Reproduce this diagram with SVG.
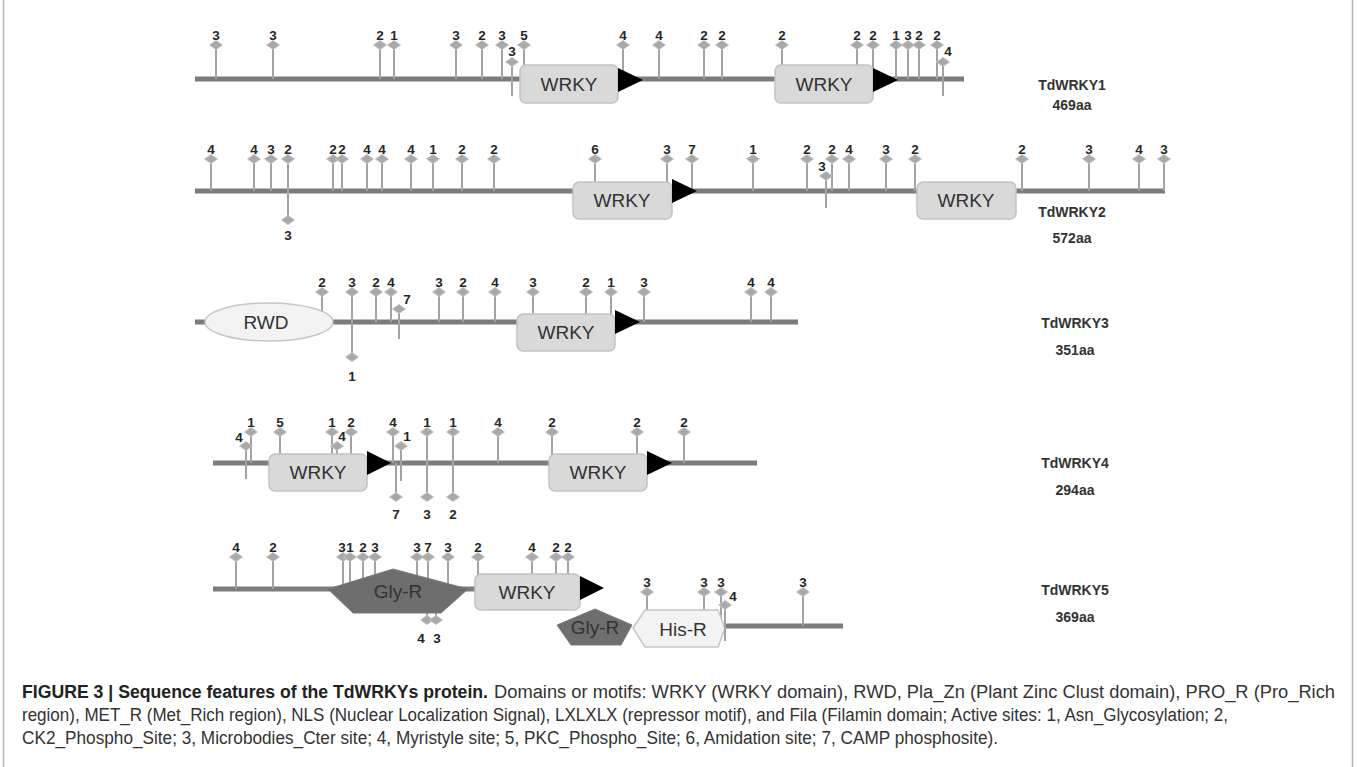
<svg xmlns="http://www.w3.org/2000/svg" xmlns:xlink="http://www.w3.org/1999/xlink" width="1358" height="767" viewBox="0 0 1358 767">
<style>
.bb{stroke:#7c7c7c;stroke-width:5;fill:none}
.s{stroke:#a3a3a3;stroke-width:2}
.n{font-family:"Liberation Sans",Arial,sans-serif;font-weight:bold;font-size:13.5px;fill:#262626;text-anchor:middle}
.dom{fill:#d9d9d9;stroke:#c2c2c2;stroke-width:1.5}
.dt{font-family:"Liberation Sans",Arial,sans-serif;font-size:19px;fill:#333;text-anchor:middle}
.ar{fill:#000}
.lab{font-family:"Liberation Sans",Arial,sans-serif;font-weight:bold;font-size:14px;fill:#333;text-anchor:middle}
.dark{fill:#6e6e6e;stroke:#7a7a7a;stroke-width:1}
.light{fill:#f3f3f3;stroke:#c6c6c6;stroke-width:1.5}
.cap{font-family:"Liberation Sans",Arial,sans-serif;font-size:17.6px;fill:#333}
.capb{font-family:"Liberation Sans",Arial,sans-serif;font-size:17.6px;font-weight:bold;fill:#222}
.frame{stroke:#b5b5b5;stroke-width:1.5}
</style>
<defs>
<path id="dm" d="M0,-4.5 L6.5,0 L0,4.5 L-6.5,0 Z" fill="#a9a9a9" stroke="#c4c4c4" stroke-width="1"/>
</defs>
<rect width="1358" height="767" fill="#fff"/>
<line class="frame" x1="3.5" y1="0" x2="3.5" y2="767"/>
<line class="frame" x1="1352.5" y1="0" x2="1352.5" y2="767"/>

<g id="TdWRKY1">
<line class="bb" x1="195" y1="79" x2="964" y2="79"/>
<g id="p1">
<line class="s" x1="216" y1="45" x2="216" y2="79"/><use href="#dm" x="216" y="45"/><text class="n" x="216" y="40">3</text>
<line class="s" x1="273" y1="45" x2="273" y2="79"/><use href="#dm" x="273" y="45"/><text class="n" x="273" y="40">3</text>
<line class="s" x1="380" y1="45" x2="380" y2="79"/><use href="#dm" x="380" y="45"/><text class="n" x="380" y="40">2</text>
<line class="s" x1="394" y1="45" x2="394" y2="79"/><use href="#dm" x="394" y="45"/><text class="n" x="394" y="40">1</text>
<line class="s" x1="456" y1="45" x2="456" y2="79"/><use href="#dm" x="456" y="45"/><text class="n" x="456" y="40">3</text>
<line class="s" x1="482" y1="45" x2="482" y2="79"/><use href="#dm" x="482" y="45"/><text class="n" x="482" y="40">2</text>
<line class="s" x1="502" y1="45" x2="502" y2="79"/><use href="#dm" x="502" y="45"/><text class="n" x="502" y="40">3</text>
<line class="s" x1="524" y1="45" x2="524" y2="79"/><use href="#dm" x="524" y="45"/><text class="n" x="524" y="40">5</text>
<line class="s" x1="623" y1="45" x2="623" y2="79"/><use href="#dm" x="623" y="45"/><text class="n" x="623" y="40">4</text>
<line class="s" x1="659" y1="45" x2="659" y2="79"/><use href="#dm" x="659" y="45"/><text class="n" x="659" y="40">4</text>
<line class="s" x1="704" y1="45" x2="704" y2="79"/><use href="#dm" x="704" y="45"/><text class="n" x="704" y="40">2</text>
<line class="s" x1="722" y1="45" x2="722" y2="79"/><use href="#dm" x="722" y="45"/><text class="n" x="722" y="40">2</text>
<line class="s" x1="782" y1="45" x2="782" y2="79"/><use href="#dm" x="782" y="45"/><text class="n" x="782" y="40">2</text>
<line class="s" x1="857" y1="45" x2="857" y2="79"/><use href="#dm" x="857" y="45"/><text class="n" x="857" y="40">2</text>
<line class="s" x1="873" y1="45" x2="873" y2="79"/><use href="#dm" x="873" y="45"/><text class="n" x="873" y="40">2</text>
<line class="s" x1="896" y1="45" x2="896" y2="79"/><use href="#dm" x="896" y="45"/><text class="n" x="896" y="40">1</text>
<line class="s" x1="908" y1="45" x2="908" y2="79"/><use href="#dm" x="908" y="45"/><text class="n" x="908" y="40">3</text>
<line class="s" x1="919" y1="45" x2="919" y2="79"/><use href="#dm" x="919" y="45"/><text class="n" x="919" y="40">2</text>
<line class="s" x1="937" y1="45" x2="937" y2="79"/><use href="#dm" x="937" y="45"/><text class="n" x="937" y="40">2</text>
</g>
<rect class="dom" x="520" y="65" width="98" height="38" rx="6"/>
<text class="dt" x="569" y="91">WRKY</text>
<polygon class="ar" points="618,68 643,80 618,92"/>
<rect class="dom" x="775" y="65" width="98" height="38" rx="6"/>
<text class="dt" x="824" y="91">WRKY</text>
<polygon class="ar" points="873,68 898,80 873,92"/>
<line class="s" x1="512" y1="62" x2="512" y2="96"/><use href="#dm" x="512" y="62"/><text class="n" x="512" y="56">3</text>
<line class="s" x1="943" y1="62" x2="943" y2="96"/><use href="#dm" x="943" y="62"/><text class="n" x="948" y="56">4</text>
<text class="lab" x="1072" y="90">TdWRKY1</text>
<text class="lab" x="1072" y="110">469aa</text>
</g>

<g id="TdWRKY2">
<line class="bb" x1="195" y1="191" x2="1165" y2="191"/>
<g id="p2">
<line class="s" x1="211" y1="159" x2="211" y2="191"/><use href="#dm" x="211" y="159"/><text class="n" x="211" y="154">4</text>
<line class="s" x1="254" y1="159" x2="254" y2="191"/><use href="#dm" x="254" y="159"/><text class="n" x="254" y="154">4</text>
<line class="s" x1="271" y1="159" x2="271" y2="191"/><use href="#dm" x="271" y="159"/><text class="n" x="271" y="154">3</text>
<line class="s" x1="288" y1="159" x2="288" y2="191"/><use href="#dm" x="288" y="159"/><text class="n" x="288" y="154">2</text>
<line class="s" x1="333" y1="159" x2="333" y2="191"/><use href="#dm" x="333" y="159"/><text class="n" x="333" y="154">2</text>
<line class="s" x1="342" y1="159" x2="342" y2="191"/><use href="#dm" x="342" y="159"/><text class="n" x="342" y="154">2</text>
<line class="s" x1="367" y1="159" x2="367" y2="191"/><use href="#dm" x="367" y="159"/><text class="n" x="367" y="154">4</text>
<line class="s" x1="382" y1="159" x2="382" y2="191"/><use href="#dm" x="382" y="159"/><text class="n" x="382" y="154">4</text>
<line class="s" x1="411" y1="159" x2="411" y2="191"/><use href="#dm" x="411" y="159"/><text class="n" x="411" y="154">4</text>
<line class="s" x1="433" y1="159" x2="433" y2="191"/><use href="#dm" x="433" y="159"/><text class="n" x="433" y="154">1</text>
<line class="s" x1="462" y1="159" x2="462" y2="191"/><use href="#dm" x="462" y="159"/><text class="n" x="462" y="154">2</text>
<line class="s" x1="494" y1="159" x2="494" y2="191"/><use href="#dm" x="494" y="159"/><text class="n" x="494" y="154">2</text>
<line class="s" x1="595" y1="159" x2="595" y2="191"/><use href="#dm" x="595" y="159"/><text class="n" x="595" y="154">6</text>
<line class="s" x1="667" y1="159" x2="667" y2="191"/><use href="#dm" x="667" y="159"/><text class="n" x="667" y="154">3</text>
<line class="s" x1="692" y1="159" x2="692" y2="191"/><use href="#dm" x="692" y="159"/><text class="n" x="692" y="154">7</text>
<line class="s" x1="753" y1="159" x2="753" y2="191"/><use href="#dm" x="753" y="159"/><text class="n" x="753" y="154">1</text>
<line class="s" x1="807" y1="159" x2="807" y2="191"/><use href="#dm" x="807" y="159"/><text class="n" x="807" y="154">2</text>
<line class="s" x1="832" y1="159" x2="832" y2="191"/><use href="#dm" x="832" y="159"/><text class="n" x="832" y="154">2</text>
<line class="s" x1="849" y1="159" x2="849" y2="191"/><use href="#dm" x="849" y="159"/><text class="n" x="849" y="154">4</text>
<line class="s" x1="886" y1="159" x2="886" y2="191"/><use href="#dm" x="886" y="159"/><text class="n" x="886" y="154">3</text>
<line class="s" x1="915" y1="159" x2="915" y2="191"/><use href="#dm" x="915" y="159"/><text class="n" x="915" y="154">2</text>
<line class="s" x1="1022" y1="159" x2="1022" y2="191"/><use href="#dm" x="1022" y="159"/><text class="n" x="1022" y="154">2</text>
<line class="s" x1="1089" y1="159" x2="1089" y2="191"/><use href="#dm" x="1089" y="159"/><text class="n" x="1089" y="154">3</text>
<line class="s" x1="1139" y1="159" x2="1139" y2="191"/><use href="#dm" x="1139" y="159"/><text class="n" x="1139" y="154">4</text>
<line class="s" x1="1164" y1="159" x2="1164" y2="191"/><use href="#dm" x="1164" y="159"/><text class="n" x="1164" y="154">3</text>
</g>
<line class="s" x1="288" y1="191" x2="288" y2="220"/><use href="#dm" x="288" y="220"/><text class="n" x="288" y="240">3</text>
<rect class="dom" x="573" y="182" width="99" height="37" rx="6"/>
<text class="dt" x="622" y="207">WRKY</text>
<polygon class="ar" points="672,179 697,191 672,203"/>
<rect class="dom" x="917" y="182" width="99" height="37" rx="6"/>
<text class="dt" x="966" y="207">WRKY</text>
<line class="s" x1="826" y1="176" x2="826" y2="208"/><use href="#dm" x="826" y="176"/><text class="n" x="822" y="171">3</text>
<text class="lab" x="1072" y="217">TdWRKY2</text>
<text class="lab" x="1072" y="243">572aa</text>
</g>

<g id="TdWRKY3">
<line class="bb" x1="195" y1="322" x2="798" y2="322"/>
<g id="p3">
<line class="s" x1="322" y1="292" x2="322" y2="322"/><use href="#dm" x="322" y="292"/><text class="n" x="322" y="287">2</text>
<line class="s" x1="352" y1="292" x2="352" y2="322"/><use href="#dm" x="352" y="292"/><text class="n" x="352" y="287">3</text>
<line class="s" x1="376" y1="292" x2="376" y2="322"/><use href="#dm" x="376" y="292"/><text class="n" x="376" y="287">2</text>
<line class="s" x1="391" y1="292" x2="391" y2="322"/><use href="#dm" x="391" y="292"/><text class="n" x="391" y="287">4</text>
<line class="s" x1="439" y1="292" x2="439" y2="322"/><use href="#dm" x="439" y="292"/><text class="n" x="439" y="287">3</text>
<line class="s" x1="463" y1="292" x2="463" y2="322"/><use href="#dm" x="463" y="292"/><text class="n" x="463" y="287">2</text>
<line class="s" x1="495" y1="292" x2="495" y2="322"/><use href="#dm" x="495" y="292"/><text class="n" x="495" y="287">4</text>
<line class="s" x1="533" y1="292" x2="533" y2="322"/><use href="#dm" x="533" y="292"/><text class="n" x="533" y="287">3</text>
<line class="s" x1="586" y1="292" x2="586" y2="322"/><use href="#dm" x="586" y="292"/><text class="n" x="586" y="287">2</text>
<line class="s" x1="611" y1="292" x2="611" y2="322"/><use href="#dm" x="611" y="292"/><text class="n" x="611" y="287">1</text>
<line class="s" x1="644" y1="292" x2="644" y2="322"/><use href="#dm" x="644" y="292"/><text class="n" x="644" y="287">3</text>
<line class="s" x1="751" y1="292" x2="751" y2="322"/><use href="#dm" x="751" y="292"/><text class="n" x="751" y="287">4</text>
<line class="s" x1="771" y1="292" x2="771" y2="322"/><use href="#dm" x="771" y="292"/><text class="n" x="771" y="287">4</text>
</g>
<ellipse class="light" cx="269" cy="322" rx="64" ry="19"/>
<text class="dt" x="266" y="329">RWD</text>
<line class="s" x1="352" y1="322" x2="352" y2="357"/><use href="#dm" x="352" y="357"/><text class="n" x="352" y="381">1</text>
<rect class="dom" x="517" y="314" width="98" height="37" rx="6"/>
<text class="dt" x="566" y="339">WRKY</text>
<polygon class="ar" points="615,310 640,322 615,334"/>
<line class="s" x1="399" y1="309" x2="399" y2="339"/><use href="#dm" x="399" y="309"/><text class="n" x="407" y="304">7</text>
<text class="lab" x="1075" y="328">TdWRKY3</text>
<text class="lab" x="1075" y="355">351aa</text>
</g>

<g id="TdWRKY4">
<line class="bb" x1="213" y1="463" x2="757" y2="463"/>
<g id="p4">
<line class="s" x1="251" y1="432" x2="251" y2="463"/><use href="#dm" x="251" y="432"/><text class="n" x="251" y="427">1</text>
<line class="s" x1="280" y1="432" x2="280" y2="463"/><use href="#dm" x="280" y="432"/><text class="n" x="280" y="427">5</text>
<line class="s" x1="332" y1="432" x2="332" y2="463"/><use href="#dm" x="332" y="432"/><text class="n" x="332" y="427">1</text>
<line class="s" x1="351" y1="432" x2="351" y2="463"/><use href="#dm" x="351" y="432"/><text class="n" x="351" y="427">2</text>
<line class="s" x1="393" y1="432" x2="393" y2="463"/><use href="#dm" x="393" y="432"/><text class="n" x="393" y="427">4</text>
<line class="s" x1="427" y1="432" x2="427" y2="463"/><use href="#dm" x="427" y="432"/><text class="n" x="427" y="427">1</text>
<line class="s" x1="453" y1="432" x2="453" y2="463"/><use href="#dm" x="453" y="432"/><text class="n" x="453" y="427">1</text>
<line class="s" x1="498" y1="432" x2="498" y2="463"/><use href="#dm" x="498" y="432"/><text class="n" x="498" y="427">4</text>
<line class="s" x1="552" y1="432" x2="552" y2="463"/><use href="#dm" x="552" y="432"/><text class="n" x="552" y="427">2</text>
<line class="s" x1="637" y1="432" x2="637" y2="463"/><use href="#dm" x="637" y="432"/><text class="n" x="637" y="427">2</text>
<line class="s" x1="684" y1="432" x2="684" y2="463"/><use href="#dm" x="684" y="432"/><text class="n" x="684" y="427">2</text>
</g>
<line class="s" x1="396" y1="463" x2="396" y2="497"/><use href="#dm" x="396" y="497"/><text class="n" x="396" y="519">7</text>
<line class="s" x1="427" y1="463" x2="427" y2="497"/><use href="#dm" x="427" y="497"/><text class="n" x="427" y="519">3</text>
<line class="s" x1="453" y1="463" x2="453" y2="497"/><use href="#dm" x="453" y="497"/><text class="n" x="453" y="519">2</text>
<line class="s" x1="337" y1="446" x2="337" y2="463"/>
<rect class="dom" x="269" y="454" width="98" height="37" rx="6"/>
<text class="dt" x="318" y="479">WRKY</text>
<polygon class="ar" points="367,451 391,463 367,475"/>
<rect class="dom" x="549" y="454" width="98" height="37" rx="6"/>
<text class="dt" x="598" y="479">WRKY</text>
<polygon class="ar" points="647,451 672,463 647,475"/>
<line class="s" x1="246" y1="446" x2="246" y2="479"/><use href="#dm" x="246" y="446"/><text class="n" x="239" y="442">4</text>
<use href="#dm" x="337" y="446"/><text class="n" x="342" y="441">4</text>
<line class="s" x1="401" y1="446" x2="401" y2="481"/><use href="#dm" x="401" y="446"/><text class="n" x="407" y="441">1</text>
<text class="lab" x="1075" y="468">TdWRKY4</text>
<text class="lab" x="1075" y="495">294aa</text>
</g>

<g id="TdWRKY5">
<line class="bb" x1="213" y1="589" x2="476" y2="589"/>
<line class="bb" x1="725" y1="626" x2="843" y2="626"/>
<g id="p5">
<line class="s" x1="236" y1="557" x2="236" y2="589"/><use href="#dm" x="236" y="557"/><text class="n" x="236" y="552">4</text>
<line class="s" x1="273" y1="557" x2="273" y2="589"/><use href="#dm" x="273" y="557"/><text class="n" x="273" y="552">2</text>
<line class="s" x1="343" y1="557" x2="343" y2="589"/><use href="#dm" x="343" y="557"/><text class="n" x="342" y="552">3</text>
<line class="s" x1="350" y1="557" x2="350" y2="589"/><use href="#dm" x="350" y="557"/><text class="n" x="350" y="552">1</text>
<line class="s" x1="363" y1="557" x2="363" y2="589"/><use href="#dm" x="363" y="557"/><text class="n" x="363" y="552">2</text>
<line class="s" x1="375" y1="557" x2="375" y2="589"/><use href="#dm" x="375" y="557"/><text class="n" x="375" y="552">3</text>
<line class="s" x1="417" y1="557" x2="417" y2="589"/><use href="#dm" x="417" y="557"/><text class="n" x="417" y="552">3</text>
<line class="s" x1="428" y1="557" x2="428" y2="589"/><use href="#dm" x="428" y="557"/><text class="n" x="428" y="552">7</text>
<line class="s" x1="448" y1="557" x2="448" y2="589"/><use href="#dm" x="448" y="557"/><text class="n" x="448" y="552">3</text>
<line class="s" x1="478" y1="557" x2="478" y2="589"/><use href="#dm" x="478" y="557"/><text class="n" x="478" y="552">2</text>
<line class="s" x1="532" y1="557" x2="532" y2="589"/><use href="#dm" x="532" y="557"/><text class="n" x="532" y="552">4</text>
<line class="s" x1="556" y1="557" x2="556" y2="589"/><use href="#dm" x="556" y="557"/><text class="n" x="556" y="552">2</text>
<line class="s" x1="568" y1="557" x2="568" y2="589"/><use href="#dm" x="568" y="557"/><text class="n" x="568" y="552">2</text>
<line class="s" x1="647" y1="592" x2="647" y2="626"/><use href="#dm" x="647" y="592"/><text class="n" x="647" y="587">3</text>
<line class="s" x1="704" y1="592" x2="704" y2="626"/><use href="#dm" x="704" y="592"/><text class="n" x="704" y="587">3</text>
<line class="s" x1="721" y1="592" x2="721" y2="626"/><use href="#dm" x="721" y="592"/><text class="n" x="721" y="587">3</text>
<line class="s" x1="803" y1="592" x2="803" y2="626"/><use href="#dm" x="803" y="592"/><text class="n" x="803" y="587">3</text>
</g>
<line class="s" x1="427" y1="610" x2="427" y2="620"/><line class="s" x1="436" y1="610" x2="436" y2="620"/>
<polygon class="dark" points="328,589 393,569 468,589 441,613 353,613"/>
<text class="dt" x="398" y="598">Gly-R</text>
<use href="#dm" x="427" y="620"/><use href="#dm" x="436" y="620"/>
<text class="n" x="421" y="643">4</text><text class="n" x="437" y="643">3</text>
<rect class="dom" x="475" y="574" width="105" height="36" rx="6"/>
<text class="dt" x="527" y="599">WRKY</text>
<polygon class="ar" points="580,576 604,588 580,600"/>
<polygon class="dark" points="595,609 632,625 621,645 571,645 557,625"/>
<text class="dt" x="595" y="634">Gly-R</text>
<polygon class="light" points="633,628 645,610 718,610 725,628 718,647 645,647"/>
<text class="dt" x="683" y="636">His-R</text>
<line class="s" x1="725" y1="605" x2="725" y2="641"/><use href="#dm" x="725" y="605"/><text class="n" x="733" y="601">4</text>
<text class="lab" x="1075" y="595">TdWRKY5</text>
<text class="lab" x="1075" y="622">369aa</text>
</g>

<g id="caption">
<text class="capb" x="22" y="698" textLength="466" lengthAdjust="spacingAndGlyphs">FIGURE 3 | Sequence features of the TdWRKYs protein.</text>
<text class="cap" x="494" y="698" textLength="841" lengthAdjust="spacingAndGlyphs">Domains or motifs: WRKY (WRKY domain), RWD, Pla_Zn (Plant Zinc Clust domain), PRO_R (Pro_Rich</text>
<text class="cap" x="22" y="721" textLength="1206" lengthAdjust="spacingAndGlyphs">region), MET_R (Met_Rich region), NLS (Nuclear Localization Signal), LXLXLX (repressor motif), and Fila (Filamin domain; Active sites: 1, Asn_Glycosylation; 2,</text>
<text class="cap" x="22" y="744" textLength="976" lengthAdjust="spacingAndGlyphs">CK2_Phospho_Site; 3, Microbodies_Cter site; 4, Myristyle site; 5, PKC_Phospho_Site; 6, Amidation site; 7, CAMP phosphosite).</text>
</g>
</svg>
